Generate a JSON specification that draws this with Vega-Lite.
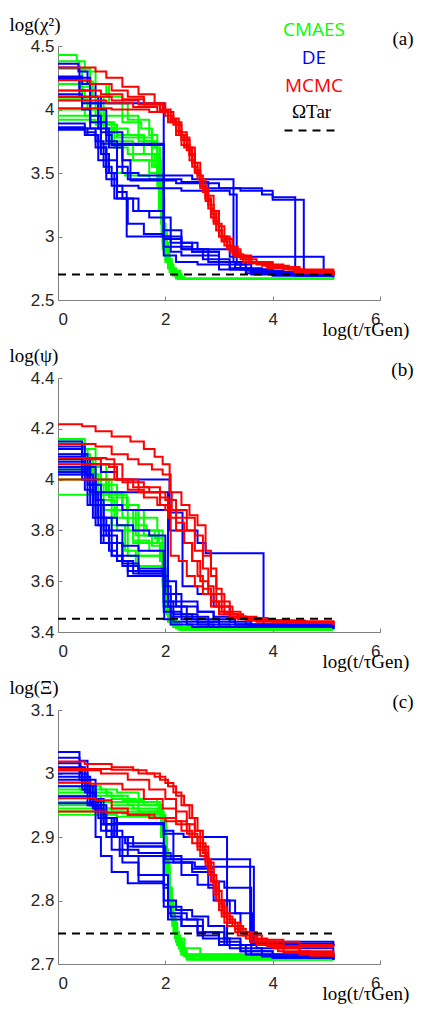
{
"$schema": "https://vega.github.io/schema/vega-lite/v6.json",
"autosize": {"type": "pad"},
"padding": {"left": 9, "top": 15, "right": 5, "bottom": 5},
"background": "white",
"spacing": 78,
"bounds": "flush",
"config": {
  "view": {"stroke": null},
  "axis": {"grid": false, "domainColor": "#7f7f7f", "domainWidth": 1, "tickColor": "#7f7f7f", "tickSize": -4, "labelFont": "Liberation Sans", "labelFontSize": 17, "labelColor": "#262626", "titleFont": "Liberation Serif", "titleFontSize": 19, "titleFontWeight": "normal", "titleColor": "#000000"}
},
"resolve": {"scale": {"x": "independent", "y": "independent", "color": "independent", "strokeDash": "independent"}, "legend": {"color": "independent", "strokeDash": "independent"}},
"datasets": {
"a": [
{"m":"C","r":"C1","x":0,"y":4.43},{"m":"C","r":"C1","x":0.35,"y":4.38},{"m":"C","r":"C1","x":0.5,"y":4.3},{"m":"C","r":"C1","x":0.7,"y":4.2},{"m":"C","r":"C1","x":0.95,"y":4.05},{"m":"C","r":"C1","x":1.3,"y":3.92},{"m":"C","r":"C1","x":1.7,"y":3.8},{"m":"C","r":"C1","x":1.85,"y":3.6},{"m":"C","r":"C1","x":1.92,"y":3.3},{"m":"C","r":"C1","x":1.97,"y":3.0},{"m":"C","r":"C1","x":2.02,"y":2.8},{"m":"C","r":"C1","x":2.1,"y":2.72},{"m":"C","r":"C1","x":2.25,"y":2.665},{"m":"C","r":"C1","x":5.13,"y":2.665},
{"m":"C","r":"C2","x":0,"y":4.38},{"m":"C","r":"C2","x":0.4,"y":4.32},{"m":"C","r":"C2","x":0.6,"y":4.2},{"m":"C","r":"C2","x":0.9,"y":4.1},{"m":"C","r":"C2","x":1.2,"y":3.95},{"m":"C","r":"C2","x":1.5,"y":3.75},{"m":"C","r":"C2","x":1.8,"y":3.7},{"m":"C","r":"C2","x":1.9,"y":3.4},{"m":"C","r":"C2","x":1.95,"y":3.1},{"m":"C","r":"C2","x":2.0,"y":2.85},{"m":"C","r":"C2","x":2.08,"y":2.75},{"m":"C","r":"C2","x":2.2,"y":2.68},{"m":"C","r":"C2","x":2.35,"y":2.665},{"m":"C","r":"C2","x":5.13,"y":2.665},
{"m":"C","r":"C3","x":0,"y":4.32},{"m":"C","r":"C3","x":0.45,"y":4.22},{"m":"C","r":"C3","x":0.65,"y":4.1},{"m":"C","r":"C3","x":0.85,"y":3.9},{"m":"C","r":"C3","x":1.05,"y":3.7},{"m":"C","r":"C3","x":1.3,"y":3.65},{"m":"C","r":"C3","x":1.75,"y":3.55},{"m":"C","r":"C3","x":1.88,"y":3.2},{"m":"C","r":"C3","x":1.95,"y":2.9},{"m":"C","r":"C3","x":2.05,"y":2.76},{"m":"C","r":"C3","x":2.15,"y":2.7},{"m":"C","r":"C3","x":2.3,"y":2.665},{"m":"C","r":"C3","x":5.13,"y":2.665},
{"m":"C","r":"C4","x":0,"y":4.25},{"m":"C","r":"C4","x":0.4,"y":4.18},{"m":"C","r":"C4","x":0.6,"y":4.0},{"m":"C","r":"C4","x":0.85,"y":3.85},{"m":"C","r":"C4","x":1.1,"y":3.78},{"m":"C","r":"C4","x":1.6,"y":3.75},{"m":"C","r":"C4","x":1.85,"y":3.5},{"m":"C","r":"C4","x":1.93,"y":3.0},{"m":"C","r":"C4","x":2.0,"y":2.8},{"m":"C","r":"C4","x":2.1,"y":2.72},{"m":"C","r":"C4","x":2.25,"y":2.665},{"m":"C","r":"C4","x":5.13,"y":2.665},
{"m":"C","r":"C5","x":0,"y":4.2},{"m":"C","r":"C5","x":0.45,"y":4.1},{"m":"C","r":"C5","x":0.7,"y":3.95},{"m":"C","r":"C5","x":0.9,"y":3.5},{"m":"C","r":"C5","x":1.25,"y":3.48},{"m":"C","r":"C5","x":1.7,"y":3.45},{"m":"C","r":"C5","x":1.9,"y":3.2},{"m":"C","r":"C5","x":1.97,"y":2.9},{"m":"C","r":"C5","x":2.05,"y":2.75},{"m":"C","r":"C5","x":2.15,"y":2.69},{"m":"C","r":"C5","x":2.3,"y":2.665},{"m":"C","r":"C5","x":5.13,"y":2.665},
{"m":"C","r":"C6","x":0,"y":4.15},{"m":"C","r":"C6","x":0.5,"y":4.05},{"m":"C","r":"C6","x":0.75,"y":3.85},{"m":"C","r":"C6","x":1.0,"y":3.72},{"m":"C","r":"C6","x":1.2,"y":3.6},{"m":"C","r":"C6","x":1.8,"y":3.55},{"m":"C","r":"C6","x":1.92,"y":3.1},{"m":"C","r":"C6","x":2.0,"y":2.82},{"m":"C","r":"C6","x":2.08,"y":2.72},{"m":"C","r":"C6","x":2.2,"y":2.67},{"m":"C","r":"C6","x":5.13,"y":2.665},
{"m":"C","r":"C7","x":0,"y":4.08},{"m":"C","r":"C7","x":0.55,"y":4.0},{"m":"C","r":"C7","x":0.8,"y":3.95},{"m":"C","r":"C7","x":1.2,"y":3.9},{"m":"C","r":"C7","x":1.55,"y":3.85},{"m":"C","r":"C7","x":1.75,"y":3.7},{"m":"C","r":"C7","x":1.85,"y":3.4},{"m":"C","r":"C7","x":1.95,"y":2.95},{"m":"C","r":"C7","x":2.05,"y":2.78},{"m":"C","r":"C7","x":2.15,"y":2.7},{"m":"C","r":"C7","x":2.3,"y":2.665},{"m":"C","r":"C7","x":5.13,"y":2.665},
{"m":"C","r":"C8","x":0,"y":4.0},{"m":"C","r":"C8","x":0.5,"y":3.95},{"m":"C","r":"C8","x":0.9,"y":3.85},{"m":"C","r":"C8","x":1.3,"y":3.8},{"m":"C","r":"C8","x":1.6,"y":3.65},{"m":"C","r":"C8","x":1.8,"y":3.55},{"m":"C","r":"C8","x":1.9,"y":3.3},{"m":"C","r":"C8","x":1.98,"y":2.9},{"m":"C","r":"C8","x":2.08,"y":2.74},{"m":"C","r":"C8","x":2.2,"y":2.68},{"m":"C","r":"C8","x":2.35,"y":2.665},{"m":"C","r":"C8","x":5.13,"y":2.665},
{"m":"C","r":"C9","x":0,"y":3.95},{"m":"C","r":"C9","x":0.6,"y":3.9},{"m":"C","r":"C9","x":1.0,"y":3.75},{"m":"C","r":"C9","x":1.4,"y":3.6},{"m":"C","r":"C9","x":1.7,"y":3.5},{"m":"C","r":"C9","x":1.85,"y":3.45},{"m":"C","r":"C9","x":1.95,"y":3.0},{"m":"C","r":"C9","x":2.02,"y":2.8},{"m":"C","r":"C9","x":2.12,"y":2.71},{"m":"C","r":"C9","x":2.25,"y":2.665},{"m":"C","r":"C9","x":5.13,"y":2.665},
{"m":"C","r":"C10","x":0,"y":3.92},{"m":"C","r":"C10","x":0.7,"y":3.88},{"m":"C","r":"C10","x":1.1,"y":3.8},{"m":"C","r":"C10","x":1.5,"y":3.78},{"m":"C","r":"C10","x":1.75,"y":3.65},{"m":"C","r":"C10","x":1.88,"y":3.35},{"m":"C","r":"C10","x":1.96,"y":3.05},{"m":"C","r":"C10","x":2.03,"y":2.82},{"m":"C","r":"C10","x":2.12,"y":2.73},{"m":"C","r":"C10","x":2.28,"y":2.67},{"m":"C","r":"C10","x":5.13,"y":2.665},
{"m":"D","r":"D1","x":0,"y":4.36},{"m":"D","r":"D1","x":0.38,"y":4.3},{"m":"D","r":"D1","x":0.55,"y":4.2},{"m":"D","r":"D1","x":0.7,"y":4.1},{"m":"D","r":"D1","x":0.8,"y":4.0},{"m":"D","r":"D1","x":0.9,"y":3.8},{"m":"D","r":"D1","x":1.0,"y":3.72},{"m":"D","r":"D1","x":1.2,"y":3.6},{"m":"D","r":"D1","x":1.35,"y":3.44},{"m":"D","r":"D1","x":2.2,"y":3.42},{"m":"D","r":"D1","x":3.0,"y":3.38},{"m":"D","r":"D1","x":3.8,"y":3.33},{"m":"D","r":"D1","x":4.0,"y":3.31},{"m":"D","r":"D1","x":4.42,"y":2.69},{"m":"D","r":"D1","x":5.13,"y":2.69},
{"m":"D","r":"D2","x":0,"y":4.33},{"m":"D","r":"D2","x":0.4,"y":4.25},{"m":"D","r":"D2","x":0.6,"y":4.1},{"m":"D","r":"D2","x":0.75,"y":3.9},{"m":"D","r":"D2","x":0.9,"y":3.75},{"m":"D","r":"D2","x":1.1,"y":3.55},{"m":"D","r":"D2","x":1.3,"y":3.45},{"m":"D","r":"D2","x":2.3,"y":3.43},{"m":"D","r":"D2","x":2.8,"y":3.38},{"m":"D","r":"D2","x":3.4,"y":3.36},{"m":"D","r":"D2","x":4.0,"y":3.29},{"m":"D","r":"D2","x":4.58,"y":2.71},{"m":"D","r":"D2","x":5.13,"y":2.71},
{"m":"D","r":"D3","x":0,"y":4.26},{"m":"D","r":"D3","x":0.45,"y":4.2},{"m":"D","r":"D3","x":0.6,"y":4.05},{"m":"D","r":"D3","x":0.75,"y":3.85},{"m":"D","r":"D3","x":0.95,"y":3.7},{"m":"D","r":"D3","x":1.2,"y":3.5},{"m":"D","r":"D3","x":1.5,"y":3.48},{"m":"D","r":"D3","x":2.5,"y":3.45},{"m":"D","r":"D3","x":3.27,"y":2.8},{"m":"D","r":"D3","x":3.5,"y":2.74},{"m":"D","r":"D3","x":4.0,"y":2.71},{"m":"D","r":"D3","x":5.13,"y":2.71},
{"m":"D","r":"D4","x":0,"y":4.24},{"m":"D","r":"D4","x":0.4,"y":4.15},{"m":"D","r":"D4","x":0.6,"y":4.05},{"m":"D","r":"D4","x":1.97,"y":3.15},{"m":"D","r":"D4","x":2.1,"y":3.0},{"m":"D","r":"D4","x":2.3,"y":2.9},{"m":"D","r":"D4","x":2.7,"y":2.85},{"m":"D","r":"D4","x":3.0,"y":2.78},{"m":"D","r":"D4","x":3.5,"y":2.73},{"m":"D","r":"D4","x":4.2,"y":2.7},{"m":"D","r":"D4","x":5.13,"y":2.7},
{"m":"D","r":"D5","x":0,"y":4.12},{"m":"D","r":"D5","x":0.45,"y":4.05},{"m":"D","r":"D5","x":0.6,"y":3.9},{"m":"D","r":"D5","x":0.8,"y":3.73},{"m":"D","r":"D5","x":1.97,"y":3.0},{"m":"D","r":"D5","x":2.1,"y":2.92},{"m":"D","r":"D5","x":2.5,"y":2.88},{"m":"D","r":"D5","x":3.0,"y":2.8},{"m":"D","r":"D5","x":3.3,"y":2.75},{"m":"D","r":"D5","x":3.8,"y":2.71},{"m":"D","r":"D5","x":5.13,"y":2.69},
{"m":"D","r":"D6","x":0,"y":4.1},{"m":"D","r":"D6","x":0.45,"y":4.0},{"m":"D","r":"D6","x":0.6,"y":3.85},{"m":"D","r":"D6","x":0.8,"y":3.65},{"m":"D","r":"D6","x":0.95,"y":3.5},{"m":"D","r":"D6","x":1.1,"y":3.4},{"m":"D","r":"D6","x":1.5,"y":3.38},{"m":"D","r":"D6","x":2.3,"y":3.36},{"m":"D","r":"D6","x":3.2,"y":3.33},{"m":"D","r":"D6","x":3.33,"y":2.78},{"m":"D","r":"D6","x":3.6,"y":2.72},{"m":"D","r":"D6","x":5.13,"y":2.7},
{"m":"D","r":"D7","x":0,"y":3.89},{"m":"D","r":"D7","x":0.5,"y":3.85},{"m":"D","r":"D7","x":0.7,"y":3.75},{"m":"D","r":"D7","x":0.85,"y":3.55},{"m":"D","r":"D7","x":1.0,"y":3.4},{"m":"D","r":"D7","x":1.2,"y":3.3},{"m":"D","r":"D7","x":1.5,"y":3.2},{"m":"D","r":"D7","x":1.97,"y":3.0},{"m":"D","r":"D7","x":2.1,"y":2.95},{"m":"D","r":"D7","x":2.6,"y":2.9},{"m":"D","r":"D7","x":3.2,"y":2.84},{"m":"D","r":"D7","x":4.95,"y":2.71},{"m":"D","r":"D7","x":5.13,"y":2.71},
{"m":"D","r":"D8","x":0,"y":3.86},{"m":"D","r":"D8","x":0.5,"y":3.82},{"m":"D","r":"D8","x":0.7,"y":3.7},{"m":"D","r":"D8","x":0.9,"y":3.5},{"m":"D","r":"D8","x":1.05,"y":3.3},{"m":"D","r":"D8","x":1.3,"y":3.1},{"m":"D","r":"D8","x":1.6,"y":3.02},{"m":"D","r":"D8","x":1.97,"y":2.85},{"m":"D","r":"D8","x":2.2,"y":2.8},{"m":"D","r":"D8","x":2.6,"y":2.78},{"m":"D","r":"D8","x":3.0,"y":2.74},{"m":"D","r":"D8","x":3.5,"y":2.71},{"m":"D","r":"D8","x":4.0,"y":2.69},{"m":"D","r":"D8","x":5.13,"y":2.68},
{"m":"D","r":"D9","x":0,"y":3.85},{"m":"D","r":"D9","x":0.55,"y":3.8},{"m":"D","r":"D9","x":0.75,"y":3.7},{"m":"D","r":"D9","x":0.9,"y":3.6},{"m":"D","r":"D9","x":1.1,"y":3.35},{"m":"D","r":"D9","x":1.28,"y":3.0},{"m":"D","r":"D9","x":1.97,"y":2.92},{"m":"D","r":"D9","x":2.1,"y":2.88},{"m":"D","r":"D9","x":2.3,"y":2.85},{"m":"D","r":"D9","x":2.7,"y":2.82},{"m":"D","r":"D9","x":3.2,"y":2.75},{"m":"D","r":"D9","x":3.6,"y":2.71},{"m":"D","r":"D9","x":5.13,"y":2.69},
{"m":"D","r":"D10","x":0,"y":3.84},{"m":"D","r":"D10","x":0.5,"y":3.8},{"m":"D","r":"D10","x":0.75,"y":3.6},{"m":"D","r":"D10","x":0.9,"y":3.45},{"m":"D","r":"D10","x":1.1,"y":3.3},{"m":"D","r":"D10","x":1.4,"y":3.2},{"m":"D","r":"D10","x":1.7,"y":3.15},{"m":"D","r":"D10","x":1.97,"y":3.05},{"m":"D","r":"D10","x":2.3,"y":2.95},{"m":"D","r":"D10","x":2.5,"y":2.88},{"m":"D","r":"D10","x":3.0,"y":2.8},{"m":"D","r":"D10","x":3.4,"y":2.74},{"m":"D","r":"D10","x":4.0,"y":2.7},{"m":"D","r":"D10","x":5.13,"y":2.68},
{"m":"D","r":"D11","x":0,"y":4.25},{"m":"D","r":"D11","x":0.4,"y":4.1},{"m":"D","r":"D11","x":0.6,"y":3.95},{"m":"D","r":"D11","x":0.8,"y":3.82},{"m":"D","r":"D11","x":1.2,"y":3.72},{"m":"D","r":"D11","x":1.97,"y":2.98},{"m":"D","r":"D11","x":2.3,"y":2.9},{"m":"D","r":"D11","x":2.8,"y":2.8},{"m":"D","r":"D11","x":3.2,"y":2.74},{"m":"D","r":"D11","x":3.6,"y":2.7},{"m":"D","r":"D11","x":5.13,"y":2.69},
{"m":"M","r":"M1","x":0,"y":4.33},{"m":"M","r":"M1","x":0.7,"y":4.3},{"m":"M","r":"M1","x":0.9,"y":4.25},{"m":"M","r":"M1","x":1.2,"y":4.18},{"m":"M","r":"M1","x":1.5,"y":4.12},{"m":"M","r":"M1","x":1.8,"y":4.05},{"m":"M","r":"M1","x":2.0,"y":3.98},{"m":"M","r":"M1","x":2.15,"y":3.9},{"m":"M","r":"M1","x":2.3,"y":3.78},{"m":"M","r":"M1","x":2.45,"y":3.65},{"m":"M","r":"M1","x":2.55,"y":3.52},{"m":"M","r":"M1","x":2.65,"y":3.4},{"m":"M","r":"M1","x":2.75,"y":3.3},{"m":"M","r":"M1","x":2.85,"y":3.2},{"m":"M","r":"M1","x":2.95,"y":3.1},{"m":"M","r":"M1","x":3.05,"y":3.0},{"m":"M","r":"M1","x":3.2,"y":2.92},{"m":"M","r":"M1","x":3.35,"y":2.85},{"m":"M","r":"M1","x":3.6,"y":2.8},{"m":"M","r":"M1","x":4.0,"y":2.76},{"m":"M","r":"M1","x":4.5,"y":2.72},{"m":"M","r":"M1","x":5.13,"y":2.7},
{"m":"M","r":"M2","x":0,"y":4.23},{"m":"M","r":"M2","x":0.6,"y":4.2},{"m":"M","r":"M2","x":1.0,"y":4.15},{"m":"M","r":"M2","x":1.3,"y":4.1},{"m":"M","r":"M2","x":1.6,"y":4.05},{"m":"M","r":"M2","x":1.9,"y":4.0},{"m":"M","r":"M2","x":2.1,"y":3.93},{"m":"M","r":"M2","x":2.25,"y":3.8},{"m":"M","r":"M2","x":2.4,"y":3.68},{"m":"M","r":"M2","x":2.5,"y":3.55},{"m":"M","r":"M2","x":2.6,"y":3.45},{"m":"M","r":"M2","x":2.7,"y":3.35},{"m":"M","r":"M2","x":2.8,"y":3.22},{"m":"M","r":"M2","x":2.9,"y":3.1},{"m":"M","r":"M2","x":3.0,"y":3.0},{"m":"M","r":"M2","x":3.15,"y":2.92},{"m":"M","r":"M2","x":3.3,"y":2.85},{"m":"M","r":"M2","x":3.5,"y":2.8},{"m":"M","r":"M2","x":3.9,"y":2.76},{"m":"M","r":"M2","x":4.4,"y":2.73},{"m":"M","r":"M2","x":5.13,"y":2.7},
{"m":"M","r":"M3","x":0,"y":4.15},{"m":"M","r":"M3","x":0.8,"y":4.12},{"m":"M","r":"M3","x":1.2,"y":4.08},{"m":"M","r":"M3","x":1.6,"y":4.04},{"m":"M","r":"M3","x":1.95,"y":3.98},{"m":"M","r":"M3","x":2.1,"y":3.9},{"m":"M","r":"M3","x":2.2,"y":3.8},{"m":"M","r":"M3","x":2.35,"y":3.7},{"m":"M","r":"M3","x":2.5,"y":3.58},{"m":"M","r":"M3","x":2.6,"y":3.48},{"m":"M","r":"M3","x":2.7,"y":3.38},{"m":"M","r":"M3","x":2.8,"y":3.25},{"m":"M","r":"M3","x":2.9,"y":3.12},{"m":"M","r":"M3","x":3.0,"y":3.0},{"m":"M","r":"M3","x":3.1,"y":2.93},{"m":"M","r":"M3","x":3.25,"y":2.86},{"m":"M","r":"M3","x":3.45,"y":2.8},{"m":"M","r":"M3","x":3.8,"y":2.77},{"m":"M","r":"M3","x":4.3,"y":2.74},{"m":"M","r":"M3","x":4.6,"y":2.71},{"m":"M","r":"M3","x":5.13,"y":2.69},
{"m":"M","r":"M4","x":0,"y":4.1},{"m":"M","r":"M4","x":1.0,"y":4.07},{"m":"M","r":"M4","x":1.5,"y":4.04},{"m":"M","r":"M4","x":1.9,"y":3.99},{"m":"M","r":"M4","x":2.05,"y":3.92},{"m":"M","r":"M4","x":2.2,"y":3.83},{"m":"M","r":"M4","x":2.3,"y":3.72},{"m":"M","r":"M4","x":2.45,"y":3.6},{"m":"M","r":"M4","x":2.55,"y":3.5},{"m":"M","r":"M4","x":2.65,"y":3.38},{"m":"M","r":"M4","x":2.75,"y":3.28},{"m":"M","r":"M4","x":2.85,"y":3.15},{"m":"M","r":"M4","x":2.95,"y":3.05},{"m":"M","r":"M4","x":3.05,"y":2.96},{"m":"M","r":"M4","x":3.2,"y":2.88},{"m":"M","r":"M4","x":3.4,"y":2.82},{"m":"M","r":"M4","x":3.7,"y":2.78},{"m":"M","r":"M4","x":4.2,"y":2.74},{"m":"M","r":"M4","x":5.13,"y":2.69},
{"m":"M","r":"M5","x":0,"y":4.07},{"m":"M","r":"M5","x":0.9,"y":4.05},{"m":"M","r":"M5","x":1.4,"y":4.02},{"m":"M","r":"M5","x":1.85,"y":3.98},{"m":"M","r":"M5","x":2.05,"y":3.9},{"m":"M","r":"M5","x":2.25,"y":3.82},{"m":"M","r":"M5","x":2.4,"y":3.7},{"m":"M","r":"M5","x":2.55,"y":3.58},{"m":"M","r":"M5","x":2.65,"y":3.45},{"m":"M","r":"M5","x":2.75,"y":3.32},{"m":"M","r":"M5","x":2.9,"y":3.2},{"m":"M","r":"M5","x":3.0,"y":3.08},{"m":"M","r":"M5","x":3.1,"y":2.98},{"m":"M","r":"M5","x":3.25,"y":2.9},{"m":"M","r":"M5","x":3.4,"y":2.84},{"m":"M","r":"M5","x":3.6,"y":2.79},{"m":"M","r":"M5","x":4.0,"y":2.75},{"m":"M","r":"M5","x":4.5,"y":2.72},{"m":"M","r":"M5","x":5.13,"y":2.7},
{"m":"M","r":"M6","x":0,"y":4.01},{"m":"M","r":"M6","x":1.0,"y":4.0},{"m":"M","r":"M6","x":1.7,"y":3.98},{"m":"M","r":"M6","x":2.0,"y":3.95},{"m":"M","r":"M6","x":2.15,"y":3.88},{"m":"M","r":"M6","x":2.3,"y":3.76},{"m":"M","r":"M6","x":2.45,"y":3.64},{"m":"M","r":"M6","x":2.55,"y":3.52},{"m":"M","r":"M6","x":2.65,"y":3.4},{"m":"M","r":"M6","x":2.75,"y":3.3},{"m":"M","r":"M6","x":2.85,"y":3.18},{"m":"M","r":"M6","x":2.95,"y":3.05},{"m":"M","r":"M6","x":3.05,"y":2.97},{"m":"M","r":"M6","x":3.15,"y":2.9},{"m":"M","r":"M6","x":3.3,"y":2.84},{"m":"M","r":"M6","x":3.55,"y":2.79},{"m":"M","r":"M6","x":3.9,"y":2.75},{"m":"M","r":"M6","x":4.4,"y":2.72},{"m":"M","r":"M6","x":5.13,"y":2.69}
],
"b": [
{"m":"C","r":"C1","x":0,"y":4.16},{"m":"C","r":"C1","x":0.5,"y":4.12},{"m":"C","r":"C1","x":0.7,"y":4.0},{"m":"C","r":"C1","x":0.9,"y":3.95},{"m":"C","r":"C1","x":1.2,"y":3.9},{"m":"C","r":"C1","x":1.5,"y":3.85},{"m":"C","r":"C1","x":1.85,"y":3.8},{"m":"C","r":"C1","x":1.95,"y":3.6},{"m":"C","r":"C1","x":2.02,"y":3.48},{"m":"C","r":"C1","x":2.1,"y":3.43},{"m":"C","r":"C1","x":2.25,"y":3.41},{"m":"C","r":"C1","x":5.13,"y":3.41},
{"m":"C","r":"C2","x":0,"y":4.15},{"m":"C","r":"C2","x":0.45,"y":4.08},{"m":"C","r":"C2","x":0.65,"y":3.98},{"m":"C","r":"C2","x":0.85,"y":3.88},{"m":"C","r":"C2","x":1.1,"y":3.8},{"m":"C","r":"C2","x":1.4,"y":3.75},{"m":"C","r":"C2","x":1.9,"y":3.72},{"m":"C","r":"C2","x":1.98,"y":3.55},{"m":"C","r":"C2","x":2.05,"y":3.45},{"m":"C","r":"C2","x":2.15,"y":3.42},{"m":"C","r":"C2","x":2.3,"y":3.41},{"m":"C","r":"C2","x":5.13,"y":3.41},
{"m":"C","r":"C3","x":0,"y":4.12},{"m":"C","r":"C3","x":0.55,"y":4.05},{"m":"C","r":"C3","x":0.8,"y":3.92},{"m":"C","r":"C3","x":1.05,"y":3.85},{"m":"C","r":"C3","x":1.3,"y":3.7},{"m":"C","r":"C3","x":1.9,"y":3.68},{"m":"C","r":"C3","x":1.97,"y":3.5},{"m":"C","r":"C3","x":2.05,"y":3.44},{"m":"C","r":"C3","x":2.2,"y":3.415},{"m":"C","r":"C3","x":5.13,"y":3.41},
{"m":"C","r":"C4","x":0,"y":4.1},{"m":"C","r":"C4","x":0.6,"y":4.06},{"m":"C","r":"C4","x":0.9,"y":3.95},{"m":"C","r":"C4","x":1.2,"y":3.9},{"m":"C","r":"C4","x":1.5,"y":3.8},{"m":"C","r":"C4","x":1.8,"y":3.77},{"m":"C","r":"C4","x":1.95,"y":3.62},{"m":"C","r":"C4","x":2.02,"y":3.5},{"m":"C","r":"C4","x":2.1,"y":3.44},{"m":"C","r":"C4","x":2.25,"y":3.41},{"m":"C","r":"C4","x":5.13,"y":3.41},
{"m":"C","r":"C5","x":0,"y":4.08},{"m":"C","r":"C5","x":0.5,"y":4.02},{"m":"C","r":"C5","x":0.75,"y":3.92},{"m":"C","r":"C5","x":1.0,"y":3.82},{"m":"C","r":"C5","x":1.25,"y":3.72},{"m":"C","r":"C5","x":1.45,"y":3.66},{"m":"C","r":"C5","x":1.93,"y":3.64},{"m":"C","r":"C5","x":2.0,"y":3.5},{"m":"C","r":"C5","x":2.08,"y":3.44},{"m":"C","r":"C5","x":2.2,"y":3.415},{"m":"C","r":"C5","x":5.13,"y":3.41},
{"m":"C","r":"C6","x":0,"y":4.06},{"m":"C","r":"C6","x":0.65,"y":4.0},{"m":"C","r":"C6","x":0.95,"y":3.93},{"m":"C","r":"C6","x":1.3,"y":3.88},{"m":"C","r":"C6","x":1.6,"y":3.78},{"m":"C","r":"C6","x":1.85,"y":3.75},{"m":"C","r":"C6","x":1.95,"y":3.58},{"m":"C","r":"C6","x":2.03,"y":3.47},{"m":"C","r":"C6","x":2.12,"y":3.43},{"m":"C","r":"C6","x":2.3,"y":3.41},{"m":"C","r":"C6","x":5.13,"y":3.41},
{"m":"C","r":"C7","x":0,"y":4.04},{"m":"C","r":"C7","x":0.7,"y":4.0},{"m":"C","r":"C7","x":1.0,"y":3.9},{"m":"C","r":"C7","x":1.3,"y":3.8},{"m":"C","r":"C7","x":1.5,"y":3.7},{"m":"C","r":"C7","x":1.9,"y":3.7},{"m":"C","r":"C7","x":1.98,"y":3.52},{"m":"C","r":"C7","x":2.06,"y":3.45},{"m":"C","r":"C7","x":2.2,"y":3.42},{"m":"C","r":"C7","x":5.13,"y":3.41},
{"m":"C","r":"C8","x":0,"y":4.02},{"m":"C","r":"C8","x":0.8,"y":3.98},{"m":"C","r":"C8","x":1.1,"y":3.88},{"m":"C","r":"C8","x":1.4,"y":3.76},{"m":"C","r":"C8","x":1.7,"y":3.72},{"m":"C","r":"C8","x":1.92,"y":3.68},{"m":"C","r":"C8","x":2.0,"y":3.5},{"m":"C","r":"C8","x":2.1,"y":3.44},{"m":"C","r":"C8","x":2.25,"y":3.415},{"m":"C","r":"C8","x":5.13,"y":3.41},
{"m":"C","r":"C9","x":0,"y":4.0},{"m":"C","r":"C9","x":0.9,"y":3.95},{"m":"C","r":"C9","x":1.2,"y":3.85},{"m":"C","r":"C9","x":1.45,"y":3.78},{"m":"C","r":"C9","x":1.75,"y":3.74},{"m":"C","r":"C9","x":1.9,"y":3.7},{"m":"C","r":"C9","x":1.97,"y":3.55},{"m":"C","r":"C9","x":2.05,"y":3.46},{"m":"C","r":"C9","x":2.15,"y":3.42},{"m":"C","r":"C9","x":5.13,"y":3.41},
{"m":"C","r":"C10","x":0,"y":3.94},{"m":"C","r":"C10","x":1.28,"y":3.88},{"m":"C","r":"C10","x":1.45,"y":3.82},{"m":"C","r":"C10","x":1.65,"y":3.8},{"m":"C","r":"C10","x":1.88,"y":3.75},{"m":"C","r":"C10","x":1.96,"y":3.6},{"m":"C","r":"C10","x":2.04,"y":3.47},{"m":"C","r":"C10","x":2.15,"y":3.43},{"m":"C","r":"C10","x":2.3,"y":3.41},{"m":"C","r":"C10","x":5.13,"y":3.41},
{"m":"D","r":"D1","x":0,"y":4.15},{"m":"D","r":"D1","x":0.45,"y":4.1},{"m":"D","r":"D1","x":0.55,"y":4.0},{"m":"D","r":"D1","x":0.7,"y":3.9},{"m":"D","r":"D1","x":0.85,"y":3.8},{"m":"D","r":"D1","x":1.0,"y":3.75},{"m":"D","r":"D1","x":1.2,"y":3.7},{"m":"D","r":"D1","x":1.5,"y":3.65},{"m":"D","r":"D1","x":2.0,"y":3.55},{"m":"D","r":"D1","x":2.1,"y":3.48},{"m":"D","r":"D1","x":2.3,"y":3.45},{"m":"D","r":"D1","x":2.6,"y":3.43},{"m":"D","r":"D1","x":3.2,"y":3.42},{"m":"D","r":"D1","x":5.13,"y":3.415},
{"m":"D","r":"D2","x":0,"y":4.13},{"m":"D","r":"D2","x":0.5,"y":4.08},{"m":"D","r":"D2","x":0.6,"y":3.95},{"m":"D","r":"D2","x":0.75,"y":3.85},{"m":"D","r":"D2","x":0.9,"y":3.78},{"m":"D","r":"D2","x":1.1,"y":3.68},{"m":"D","r":"D2","x":1.3,"y":3.64},{"m":"D","r":"D2","x":1.97,"y":3.6},{"m":"D","r":"D2","x":2.05,"y":3.5},{"m":"D","r":"D2","x":2.3,"y":3.47},{"m":"D","r":"D2","x":2.6,"y":3.44},{"m":"D","r":"D2","x":3.0,"y":3.42},{"m":"D","r":"D2","x":5.13,"y":3.415},
{"m":"D","r":"D3","x":0,"y":4.12},{"m":"D","r":"D3","x":0.45,"y":4.05},{"m":"D","r":"D3","x":0.6,"y":3.9},{"m":"D","r":"D3","x":0.75,"y":3.82},{"m":"D","r":"D3","x":0.95,"y":3.75},{"m":"D","r":"D3","x":1.2,"y":3.68},{"m":"D","r":"D3","x":1.4,"y":3.63},{"m":"D","r":"D3","x":1.98,"y":3.62},{"m":"D","r":"D3","x":2.05,"y":3.55},{"m":"D","r":"D3","x":2.3,"y":3.52},{"m":"D","r":"D3","x":2.6,"y":3.48},{"m":"D","r":"D3","x":2.9,"y":3.45},{"m":"D","r":"D3","x":3.3,"y":3.43},{"m":"D","r":"D3","x":3.6,"y":3.42},{"m":"D","r":"D3","x":5.13,"y":3.415},
{"m":"D","r":"D4","x":0,"y":4.1},{"m":"D","r":"D4","x":0.5,"y":4.06},{"m":"D","r":"D4","x":0.8,"y":4.03},{"m":"D","r":"D4","x":1.1,"y":4.0},{"m":"D","r":"D4","x":2.08,"y":3.8},{"m":"D","r":"D4","x":2.6,"y":3.75},{"m":"D","r":"D4","x":2.75,"y":3.71},{"m":"D","r":"D4","x":3.83,"y":3.425},{"m":"D","r":"D4","x":5.13,"y":3.42},
{"m":"D","r":"D5","x":0,"y":4.09},{"m":"D","r":"D5","x":0.5,"y":4.05},{"m":"D","r":"D5","x":0.7,"y":3.95},{"m":"D","r":"D5","x":2.05,"y":3.6},{"m":"D","r":"D5","x":2.2,"y":3.5},{"m":"D","r":"D5","x":2.4,"y":3.46},{"m":"D","r":"D5","x":2.8,"y":3.44},{"m":"D","r":"D5","x":3.3,"y":3.43},{"m":"D","r":"D5","x":5.13,"y":3.415},
{"m":"D","r":"D6","x":0,"y":4.08},{"m":"D","r":"D6","x":0.45,"y":4.0},{"m":"D","r":"D6","x":0.55,"y":3.9},{"m":"D","r":"D6","x":0.7,"y":3.82},{"m":"D","r":"D6","x":0.8,"y":3.75},{"m":"D","r":"D6","x":1.0,"y":3.7},{"m":"D","r":"D6","x":1.2,"y":3.67},{"m":"D","r":"D6","x":1.5,"y":3.64},{"m":"D","r":"D6","x":1.97,"y":3.5},{"m":"D","r":"D6","x":2.1,"y":3.46},{"m":"D","r":"D6","x":2.4,"y":3.44},{"m":"D","r":"D6","x":2.8,"y":3.42},{"m":"D","r":"D6","x":5.13,"y":3.415},
{"m":"D","r":"D7","x":0,"y":4.07},{"m":"D","r":"D7","x":0.5,"y":4.02},{"m":"D","r":"D7","x":0.65,"y":3.9},{"m":"D","r":"D7","x":0.8,"y":3.85},{"m":"D","r":"D7","x":1.0,"y":3.8},{"m":"D","r":"D7","x":1.2,"y":3.74},{"m":"D","r":"D7","x":1.5,"y":3.72},{"m":"D","r":"D7","x":1.97,"y":3.52},{"m":"D","r":"D7","x":2.15,"y":3.47},{"m":"D","r":"D7","x":2.5,"y":3.45},{"m":"D","r":"D7","x":3.0,"y":3.43},{"m":"D","r":"D7","x":5.13,"y":3.415},
{"m":"D","r":"D8","x":0,"y":4.05},{"m":"D","r":"D8","x":0.55,"y":4.0},{"m":"D","r":"D8","x":0.7,"y":3.92},{"m":"D","r":"D8","x":0.85,"y":3.85},{"m":"D","r":"D8","x":1.1,"y":3.82},{"m":"D","r":"D8","x":1.4,"y":3.8},{"m":"D","r":"D8","x":1.7,"y":3.78},{"m":"D","r":"D8","x":2.0,"y":3.58},{"m":"D","r":"D8","x":2.1,"y":3.52},{"m":"D","r":"D8","x":2.3,"y":3.5},{"m":"D","r":"D8","x":2.6,"y":3.48},{"m":"D","r":"D8","x":2.9,"y":3.46},{"m":"D","r":"D8","x":3.2,"y":3.44},{"m":"D","r":"D8","x":3.6,"y":3.425},{"m":"D","r":"D8","x":5.13,"y":3.415},
{"m":"D","r":"D9","x":0,"y":4.04},{"m":"D","r":"D9","x":0.6,"y":3.98},{"m":"D","r":"D9","x":0.8,"y":3.9},{"m":"D","r":"D9","x":1.2,"y":3.88},{"m":"D","r":"D9","x":2.05,"y":3.87},{"m":"D","r":"D9","x":2.32,"y":3.58},{"m":"D","r":"D9","x":2.6,"y":3.55},{"m":"D","r":"D9","x":2.9,"y":3.5},{"m":"D","r":"D9","x":3.2,"y":3.46},{"m":"D","r":"D9","x":3.5,"y":3.43},{"m":"D","r":"D9","x":5.13,"y":3.415},
{"m":"D","r":"D10","x":0,"y":4.03},{"m":"D","r":"D10","x":0.55,"y":3.98},{"m":"D","r":"D10","x":0.7,"y":3.85},{"m":"D","r":"D10","x":0.85,"y":3.75},{"m":"D","r":"D10","x":1.0,"y":3.7},{"m":"D","r":"D10","x":1.2,"y":3.66},{"m":"D","r":"D10","x":1.5,"y":3.63},{"m":"D","r":"D10","x":1.98,"y":3.45},{"m":"D","r":"D10","x":2.1,"y":3.43},{"m":"D","r":"D10","x":2.5,"y":3.42},{"m":"D","r":"D10","x":5.13,"y":3.415},
{"m":"D","r":"D11","x":0,"y":4.02},{"m":"D","r":"D11","x":0.5,"y":3.96},{"m":"D","r":"D11","x":0.65,"y":3.85},{"m":"D","r":"D11","x":0.8,"y":3.78},{"m":"D","r":"D11","x":0.95,"y":3.72},{"m":"D","r":"D11","x":1.1,"y":3.68},{"m":"D","r":"D11","x":1.3,"y":3.62},{"m":"D","r":"D11","x":1.97,"y":3.48},{"m":"D","r":"D11","x":2.15,"y":3.44},{"m":"D","r":"D11","x":2.4,"y":3.43},{"m":"D","r":"D11","x":2.9,"y":3.42},{"m":"D","r":"D11","x":5.13,"y":3.415},
{"m":"M","r":"M1","x":0,"y":4.218},{"m":"M","r":"M1","x":0.45,"y":4.21},{"m":"M","r":"M1","x":0.7,"y":4.19},{"m":"M","r":"M1","x":1.0,"y":4.17},{"m":"M","r":"M1","x":1.35,"y":4.15},{"m":"M","r":"M1","x":1.6,"y":4.12},{"m":"M","r":"M1","x":1.8,"y":4.09},{"m":"M","r":"M1","x":1.95,"y":4.06},{"m":"M","r":"M1","x":2.08,"y":3.95},{"m":"M","r":"M1","x":2.12,"y":3.88},{"m":"M","r":"M1","x":2.2,"y":3.83},{"m":"M","r":"M1","x":2.35,"y":3.75},{"m":"M","r":"M1","x":2.5,"y":3.68},{"m":"M","r":"M1","x":2.65,"y":3.6},{"m":"M","r":"M1","x":2.8,"y":3.55},{"m":"M","r":"M1","x":2.95,"y":3.5},{"m":"M","r":"M1","x":3.1,"y":3.47},{"m":"M","r":"M1","x":3.35,"y":3.45},{"m":"M","r":"M1","x":3.7,"y":3.44},{"m":"M","r":"M1","x":4.3,"y":3.435},{"m":"M","r":"M1","x":5.13,"y":3.43},
{"m":"M","r":"M2","x":0,"y":4.14},{"m":"M","r":"M2","x":0.7,"y":4.13},{"m":"M","r":"M2","x":1.0,"y":4.1},{"m":"M","r":"M2","x":1.3,"y":4.08},{"m":"M","r":"M2","x":1.5,"y":4.06},{"m":"M","r":"M2","x":1.75,"y":4.04},{"m":"M","r":"M2","x":1.95,"y":4.02},{"m":"M","r":"M2","x":2.1,"y":3.95},{"m":"M","r":"M2","x":2.3,"y":3.9},{"m":"M","r":"M2","x":2.45,"y":3.86},{"m":"M","r":"M2","x":2.6,"y":3.82},{"m":"M","r":"M2","x":2.75,"y":3.72},{"m":"M","r":"M2","x":2.85,"y":3.65},{"m":"M","r":"M2","x":2.95,"y":3.57},{"m":"M","r":"M2","x":3.05,"y":3.52},{"m":"M","r":"M2","x":3.2,"y":3.48},{"m":"M","r":"M2","x":3.4,"y":3.46},{"m":"M","r":"M2","x":3.7,"y":3.445},{"m":"M","r":"M2","x":4.3,"y":3.44},{"m":"M","r":"M2","x":5.13,"y":3.43},
{"m":"M","r":"M3","x":0,"y":4.085},{"m":"M","r":"M3","x":0.9,"y":4.08},{"m":"M","r":"M3","x":1.05,"y":4.0},{"m":"M","r":"M3","x":1.3,"y":3.96},{"m":"M","r":"M3","x":1.6,"y":3.93},{"m":"M","r":"M3","x":1.85,"y":3.9},{"m":"M","r":"M3","x":2.0,"y":3.88},{"m":"M","r":"M3","x":2.2,"y":3.85},{"m":"M","r":"M3","x":2.4,"y":3.8},{"m":"M","r":"M3","x":2.55,"y":3.72},{"m":"M","r":"M3","x":2.7,"y":3.65},{"m":"M","r":"M3","x":2.8,"y":3.58},{"m":"M","r":"M3","x":2.9,"y":3.52},{"m":"M","r":"M3","x":3.05,"y":3.48},{"m":"M","r":"M3","x":3.2,"y":3.46},{"m":"M","r":"M3","x":3.5,"y":3.445},{"m":"M","r":"M3","x":4.2,"y":3.44},{"m":"M","r":"M3","x":5.13,"y":3.43},
{"m":"M","r":"M4","x":0,"y":4.06},{"m":"M","r":"M4","x":0.95,"y":4.05},{"m":"M","r":"M4","x":1.1,"y":4.0},{"m":"M","r":"M4","x":1.4,"y":3.97},{"m":"M","r":"M4","x":1.7,"y":3.95},{"m":"M","r":"M4","x":2.0,"y":3.92},{"m":"M","r":"M4","x":2.2,"y":3.88},{"m":"M","r":"M4","x":2.4,"y":3.85},{"m":"M","r":"M4","x":2.55,"y":3.78},{"m":"M","r":"M4","x":2.7,"y":3.7},{"m":"M","r":"M4","x":2.85,"y":3.62},{"m":"M","r":"M4","x":2.95,"y":3.55},{"m":"M","r":"M4","x":3.1,"y":3.5},{"m":"M","r":"M4","x":3.25,"y":3.47},{"m":"M","r":"M4","x":3.45,"y":3.455},{"m":"M","r":"M4","x":3.9,"y":3.445},{"m":"M","r":"M4","x":4.6,"y":3.44},{"m":"M","r":"M4","x":5.13,"y":3.43},
{"m":"M","r":"M5","x":0,"y":4.0},{"m":"M","r":"M5","x":1.2,"y":3.99},{"m":"M","r":"M5","x":1.6,"y":3.97},{"m":"M","r":"M5","x":1.9,"y":3.93},{"m":"M","r":"M5","x":2.05,"y":3.85},{"m":"M","r":"M5","x":2.2,"y":3.8},{"m":"M","r":"M5","x":2.35,"y":3.75},{"m":"M","r":"M5","x":2.5,"y":3.68},{"m":"M","r":"M5","x":2.6,"y":3.62},{"m":"M","r":"M5","x":2.7,"y":3.57},{"m":"M","r":"M5","x":2.85,"y":3.52},{"m":"M","r":"M5","x":3.0,"y":3.48},{"m":"M","r":"M5","x":3.2,"y":3.46},{"m":"M","r":"M5","x":3.5,"y":3.45},{"m":"M","r":"M5","x":4.0,"y":3.44},{"m":"M","r":"M5","x":5.13,"y":3.43},
{"m":"M","r":"M6","x":0,"y":4.085},{"m":"M","r":"M6","x":0.5,"y":4.08},{"m":"M","r":"M6","x":0.8,"y":4.06},{"m":"M","r":"M6","x":1.2,"y":4.0},{"m":"M","r":"M6","x":1.5,"y":3.95},{"m":"M","r":"M6","x":1.9,"y":3.9},{"m":"M","r":"M6","x":2.1,"y":3.7},{"m":"M","r":"M6","x":2.25,"y":3.68},{"m":"M","r":"M6","x":2.4,"y":3.62},{"m":"M","r":"M6","x":2.55,"y":3.58},{"m":"M","r":"M6","x":2.7,"y":3.55},{"m":"M","r":"M6","x":2.85,"y":3.5},{"m":"M","r":"M6","x":3.0,"y":3.47},{"m":"M","r":"M6","x":3.2,"y":3.455},{"m":"M","r":"M6","x":3.6,"y":3.445},{"m":"M","r":"M6","x":4.4,"y":3.44},{"m":"M","r":"M6","x":5.13,"y":3.43}
],
"c": [
{"m":"C","r":"C1","x":0,"y":2.985},{"m":"C","r":"C1","x":0.5,"y":2.98},{"m":"C","r":"C1","x":0.8,"y":2.975},{"m":"C","r":"C1","x":1.1,"y":2.97},{"m":"C","r":"C1","x":1.5,"y":2.96},{"m":"C","r":"C1","x":1.85,"y":2.95},{"m":"C","r":"C1","x":1.95,"y":2.92},{"m":"C","r":"C1","x":2.0,"y":2.88},{"m":"C","r":"C1","x":2.05,"y":2.82},{"m":"C","r":"C1","x":2.1,"y":2.78},{"m":"C","r":"C1","x":2.15,"y":2.75},{"m":"C","r":"C1","x":2.22,"y":2.73},{"m":"C","r":"C1","x":2.3,"y":2.715},{"m":"C","r":"C1","x":2.4,"y":2.707},{"m":"C","r":"C1","x":5.13,"y":2.707},
{"m":"C","r":"C2","x":0,"y":2.98},{"m":"C","r":"C2","x":0.4,"y":2.975},{"m":"C","r":"C2","x":0.9,"y":2.965},{"m":"C","r":"C2","x":1.3,"y":2.955},{"m":"C","r":"C2","x":1.9,"y":2.94},{"m":"C","r":"C2","x":1.97,"y":2.9},{"m":"C","r":"C2","x":2.03,"y":2.84},{"m":"C","r":"C2","x":2.08,"y":2.8},{"m":"C","r":"C2","x":2.14,"y":2.76},{"m":"C","r":"C2","x":2.2,"y":2.735},{"m":"C","r":"C2","x":2.3,"y":2.72},{"m":"C","r":"C2","x":2.4,"y":2.708},{"m":"C","r":"C2","x":5.13,"y":2.707},
{"m":"C","r":"C3","x":0,"y":2.975},{"m":"C","r":"C3","x":0.6,"y":2.97},{"m":"C","r":"C3","x":1.0,"y":2.96},{"m":"C","r":"C3","x":1.45,"y":2.955},{"m":"C","r":"C3","x":1.5,"y":2.94},{"m":"C","r":"C3","x":1.92,"y":2.935},{"m":"C","r":"C3","x":1.98,"y":2.88},{"m":"C","r":"C3","x":2.05,"y":2.82},{"m":"C","r":"C3","x":2.12,"y":2.77},{"m":"C","r":"C3","x":2.18,"y":2.74},{"m":"C","r":"C3","x":2.28,"y":2.72},{"m":"C","r":"C3","x":2.4,"y":2.707},{"m":"C","r":"C3","x":5.13,"y":2.707},
{"m":"C","r":"C4","x":0,"y":2.97},{"m":"C","r":"C4","x":0.7,"y":2.965},{"m":"C","r":"C4","x":1.2,"y":2.958},{"m":"C","r":"C4","x":1.6,"y":2.95},{"m":"C","r":"C4","x":1.88,"y":2.945},{"m":"C","r":"C4","x":1.95,"y":2.9},{"m":"C","r":"C4","x":2.02,"y":2.85},{"m":"C","r":"C4","x":2.08,"y":2.8},{"m":"C","r":"C4","x":2.15,"y":2.76},{"m":"C","r":"C4","x":2.22,"y":2.74},{"m":"C","r":"C4","x":2.35,"y":2.715},{"m":"C","r":"C4","x":5.13,"y":2.707},
{"m":"C","r":"C5","x":0,"y":2.965},{"m":"C","r":"C5","x":0.8,"y":2.955},{"m":"C","r":"C5","x":1.3,"y":2.95},{"m":"C","r":"C5","x":1.9,"y":2.935},{"m":"C","r":"C5","x":2.0,"y":2.87},{"m":"C","r":"C5","x":2.06,"y":2.82},{"m":"C","r":"C5","x":2.12,"y":2.78},{"m":"C","r":"C5","x":2.18,"y":2.75},{"m":"C","r":"C5","x":2.25,"y":2.73},{"m":"C","r":"C5","x":2.35,"y":2.714},{"m":"C","r":"C5","x":2.5,"y":2.707},{"m":"C","r":"C5","x":5.13,"y":2.707},
{"m":"C","r":"C6","x":0,"y":2.955},{"m":"C","r":"C6","x":1.0,"y":2.95},{"m":"C","r":"C6","x":1.4,"y":2.945},{"m":"C","r":"C6","x":1.85,"y":2.93},{"m":"C","r":"C6","x":1.93,"y":2.9},{"m":"C","r":"C6","x":2.0,"y":2.84},{"m":"C","r":"C6","x":2.07,"y":2.79},{"m":"C","r":"C6","x":2.13,"y":2.76},{"m":"C","r":"C6","x":2.2,"y":2.735},{"m":"C","r":"C6","x":2.3,"y":2.715},{"m":"C","r":"C6","x":5.13,"y":2.707},
{"m":"C","r":"C7","x":0,"y":2.95},{"m":"C","r":"C7","x":0.9,"y":2.945},{"m":"C","r":"C7","x":1.5,"y":2.94},{"m":"C","r":"C7","x":1.93,"y":2.93},{"m":"C","r":"C7","x":2.0,"y":2.86},{"m":"C","r":"C7","x":2.07,"y":2.8},{"m":"C","r":"C7","x":2.14,"y":2.765},{"m":"C","r":"C7","x":2.22,"y":2.74},{"m":"C","r":"C7","x":2.3,"y":2.725},{"m":"C","r":"C7","x":2.65,"y":2.71},{"m":"C","r":"C7","x":5.13,"y":2.707},
{"m":"C","r":"C8","x":0,"y":2.945},{"m":"C","r":"C8","x":1.0,"y":2.94},{"m":"C","r":"C8","x":1.55,"y":2.937},{"m":"C","r":"C8","x":1.9,"y":2.93},{"m":"C","r":"C8","x":1.98,"y":2.88},{"m":"C","r":"C8","x":2.05,"y":2.82},{"m":"C","r":"C8","x":2.1,"y":2.78},{"m":"C","r":"C8","x":2.17,"y":2.75},{"m":"C","r":"C8","x":2.25,"y":2.725},{"m":"C","r":"C8","x":2.35,"y":2.712},{"m":"C","r":"C8","x":5.13,"y":2.707},
{"m":"C","r":"C9","x":0,"y":2.94},{"m":"C","r":"C9","x":1.2,"y":2.937},{"m":"C","r":"C9","x":1.95,"y":2.93},{"m":"C","r":"C9","x":2.02,"y":2.86},{"m":"C","r":"C9","x":2.08,"y":2.8},{"m":"C","r":"C9","x":2.15,"y":2.76},{"m":"C","r":"C9","x":2.22,"y":2.735},{"m":"C","r":"C9","x":2.32,"y":2.715},{"m":"C","r":"C9","x":5.13,"y":2.707},
{"m":"C","r":"C10","x":0,"y":2.935},{"m":"C","r":"C10","x":1.1,"y":2.932},{"m":"C","r":"C10","x":1.8,"y":2.93},{"m":"C","r":"C10","x":1.92,"y":2.9},{"m":"C","r":"C10","x":1.99,"y":2.85},{"m":"C","r":"C10","x":2.06,"y":2.8},{"m":"C","r":"C10","x":2.12,"y":2.77},{"m":"C","r":"C10","x":2.2,"y":2.745},{"m":"C","r":"C10","x":2.28,"y":2.725},{"m":"C","r":"C10","x":2.38,"y":2.712},{"m":"C","r":"C10","x":5.13,"y":2.707},
{"m":"D","r":"D1","x":0,"y":3.034},{"m":"D","r":"D1","x":0.4,"y":3.02},{"m":"D","r":"D1","x":0.55,"y":2.99},{"m":"D","r":"D1","x":0.7,"y":2.95},{"m":"D","r":"D1","x":0.9,"y":2.93},{"m":"D","r":"D1","x":1.1,"y":2.922},{"m":"D","r":"D1","x":1.97,"y":2.905},{"m":"D","r":"D1","x":2.34,"y":2.9},{"m":"D","r":"D1","x":3.15,"y":2.73},{"m":"D","r":"D1","x":5.13,"y":2.728},
{"m":"D","r":"D2","x":0,"y":3.016},{"m":"D","r":"D2","x":0.42,"y":3.0},{"m":"D","r":"D2","x":0.55,"y":2.97},{"m":"D","r":"D2","x":0.7,"y":2.94},{"m":"D","r":"D2","x":0.85,"y":2.92},{"m":"D","r":"D2","x":1.05,"y":2.9},{"m":"D","r":"D2","x":1.25,"y":2.89},{"m":"D","r":"D2","x":1.97,"y":2.875},{"m":"D","r":"D2","x":2.1,"y":2.865},{"m":"D","r":"D2","x":3.58,"y":2.735},{"m":"D","r":"D2","x":5.13,"y":2.73},
{"m":"D","r":"D3","x":0,"y":3.01},{"m":"D","r":"D3","x":0.45,"y":2.995},{"m":"D","r":"D3","x":0.6,"y":2.96},{"m":"D","r":"D3","x":0.75,"y":2.93},{"m":"D","r":"D3","x":0.9,"y":2.91},{"m":"D","r":"D3","x":1.2,"y":2.88},{"m":"D","r":"D3","x":1.5,"y":2.875},{"m":"D","r":"D3","x":1.98,"y":2.87},{"m":"D","r":"D3","x":2.3,"y":2.86},{"m":"D","r":"D3","x":2.55,"y":2.853},{"m":"D","r":"D3","x":3.65,"y":2.73},{"m":"D","r":"D3","x":5.13,"y":2.728},
{"m":"D","r":"D4","x":0,"y":3.005},{"m":"D","r":"D4","x":0.4,"y":2.99},{"m":"D","r":"D4","x":0.55,"y":2.95},{"m":"D","r":"D4","x":0.7,"y":2.9},{"m":"D","r":"D4","x":0.8,"y":2.87},{"m":"D","r":"D4","x":1.0,"y":2.845},{"m":"D","r":"D4","x":1.3,"y":2.827},{"m":"D","r":"D4","x":1.97,"y":2.79},{"m":"D","r":"D4","x":2.1,"y":2.775},{"m":"D","r":"D4","x":2.3,"y":2.76},{"m":"D","r":"D4","x":2.6,"y":2.745},{"m":"D","r":"D4","x":3.0,"y":2.73},{"m":"D","r":"D4","x":3.5,"y":2.715},{"m":"D","r":"D4","x":5.13,"y":2.707},
{"m":"D","r":"D5","x":0,"y":3.0},{"m":"D","r":"D5","x":0.45,"y":2.985},{"m":"D","r":"D5","x":0.6,"y":2.95},{"m":"D","r":"D5","x":0.8,"y":2.91},{"m":"D","r":"D5","x":1.0,"y":2.88},{"m":"D","r":"D5","x":1.2,"y":2.86},{"m":"D","r":"D5","x":1.5,"y":2.83},{"m":"D","r":"D5","x":1.97,"y":2.82},{"m":"D","r":"D5","x":2.05,"y":2.79},{"m":"D","r":"D5","x":2.3,"y":2.77},{"m":"D","r":"D5","x":2.6,"y":2.75},{"m":"D","r":"D5","x":3.0,"y":2.735},{"m":"D","r":"D5","x":3.4,"y":2.72},{"m":"D","r":"D5","x":4.0,"y":2.71},{"m":"D","r":"D5","x":5.13,"y":2.707},
{"m":"D","r":"D6","x":0,"y":2.995},{"m":"D","r":"D6","x":0.45,"y":2.975},{"m":"D","r":"D6","x":0.6,"y":2.95},{"m":"D","r":"D6","x":0.8,"y":2.93},{"m":"D","r":"D6","x":1.05,"y":2.922},{"m":"D","r":"D6","x":1.97,"y":2.8},{"m":"D","r":"D6","x":2.2,"y":2.785},{"m":"D","r":"D6","x":2.5,"y":2.775},{"m":"D","r":"D6","x":2.8,"y":2.76},{"m":"D","r":"D6","x":3.1,"y":2.74},{"m":"D","r":"D6","x":3.4,"y":2.72},{"m":"D","r":"D6","x":4.0,"y":2.71},{"m":"D","r":"D6","x":5.13,"y":2.707},
{"m":"D","r":"D7","x":0,"y":2.99},{"m":"D","r":"D7","x":0.5,"y":2.98},{"m":"D","r":"D7","x":0.7,"y":2.96},{"m":"D","r":"D7","x":0.85,"y":2.93},{"m":"D","r":"D7","x":1.05,"y":2.9},{"m":"D","r":"D7","x":1.3,"y":2.885},{"m":"D","r":"D7","x":1.97,"y":2.86},{"m":"D","r":"D7","x":2.5,"y":2.845},{"m":"D","r":"D7","x":2.9,"y":2.83},{"m":"D","r":"D7","x":3.1,"y":2.82},{"m":"D","r":"D7","x":3.6,"y":2.73},{"m":"D","r":"D7","x":5.13,"y":2.728},
{"m":"D","r":"D8","x":0,"y":2.98},{"m":"D","r":"D8","x":0.5,"y":2.97},{"m":"D","r":"D8","x":0.7,"y":2.94},{"m":"D","r":"D8","x":0.9,"y":2.9},{"m":"D","r":"D8","x":1.15,"y":2.87},{"m":"D","r":"D8","x":1.5,"y":2.84},{"m":"D","r":"D8","x":1.97,"y":2.825},{"m":"D","r":"D8","x":2.05,"y":2.78},{"m":"D","r":"D8","x":2.4,"y":2.77},{"m":"D","r":"D8","x":2.7,"y":2.75},{"m":"D","r":"D8","x":3.1,"y":2.73},{"m":"D","r":"D8","x":3.6,"y":2.715},{"m":"D","r":"D8","x":5.13,"y":2.707},
{"m":"D","r":"D9","x":0,"y":2.964},{"m":"D","r":"D9","x":0.6,"y":2.955},{"m":"D","r":"D9","x":0.8,"y":2.93},{"m":"D","r":"D9","x":1.0,"y":2.92},{"m":"D","r":"D9","x":1.97,"y":2.91},{"m":"D","r":"D9","x":2.15,"y":2.86},{"m":"D","r":"D9","x":2.5,"y":2.85},{"m":"D","r":"D9","x":2.8,"y":2.82},{"m":"D","r":"D9","x":3.0,"y":2.8},{"m":"D","r":"D9","x":3.2,"y":2.78},{"m":"D","r":"D9","x":3.4,"y":2.75},{"m":"D","r":"D9","x":3.7,"y":2.725},{"m":"D","r":"D9","x":5.13,"y":2.708},
{"m":"D","r":"D10","x":0,"y":2.953},{"m":"D","r":"D10","x":0.65,"y":2.945},{"m":"D","r":"D10","x":0.85,"y":2.92},{"m":"D","r":"D10","x":1.1,"y":2.9},{"m":"D","r":"D10","x":1.4,"y":2.885},{"m":"D","r":"D10","x":2.0,"y":2.865},{"m":"D","r":"D10","x":2.3,"y":2.84},{"m":"D","r":"D10","x":2.6,"y":2.825},{"m":"D","r":"D10","x":2.9,"y":2.8},{"m":"D","r":"D10","x":3.3,"y":2.78},{"m":"D","r":"D10","x":3.62,"y":2.732},{"m":"D","r":"D10","x":5.13,"y":2.73},
{"m":"D","r":"D11","x":0,"y":3.025},{"m":"D","r":"D11","x":0.4,"y":3.01},{"m":"D","r":"D11","x":0.5,"y":2.98},{"m":"D","r":"D11","x":0.65,"y":2.95},{"m":"D","r":"D11","x":0.8,"y":2.92},{"m":"D","r":"D11","x":1.0,"y":2.9},{"m":"D","r":"D11","x":1.3,"y":2.87},{"m":"D","r":"D11","x":1.97,"y":2.84},{"m":"D","r":"D11","x":2.05,"y":2.77},{"m":"D","r":"D11","x":2.3,"y":2.76},{"m":"D","r":"D11","x":2.7,"y":2.74},{"m":"D","r":"D11","x":3.2,"y":2.725},{"m":"D","r":"D11","x":3.8,"y":2.712},{"m":"D","r":"D11","x":5.13,"y":2.707},
{"m":"M","r":"M1","x":0,"y":3.019},{"m":"M","r":"M1","x":0.5,"y":3.015},{"m":"M","r":"M1","x":1.0,"y":3.01},{"m":"M","r":"M1","x":1.4,"y":3.005},{"m":"M","r":"M1","x":1.65,"y":3.0},{"m":"M","r":"M1","x":1.9,"y":2.99},{"m":"M","r":"M1","x":2.05,"y":2.98},{"m":"M","r":"M1","x":2.2,"y":2.965},{"m":"M","r":"M1","x":2.35,"y":2.95},{"m":"M","r":"M1","x":2.5,"y":2.93},{"m":"M","r":"M1","x":2.6,"y":2.91},{"m":"M","r":"M1","x":2.7,"y":2.885},{"m":"M","r":"M1","x":2.8,"y":2.86},{"m":"M","r":"M1","x":2.9,"y":2.83},{"m":"M","r":"M1","x":3.0,"y":2.8},{"m":"M","r":"M1","x":3.1,"y":2.78},{"m":"M","r":"M1","x":3.2,"y":2.765},{"m":"M","r":"M1","x":3.35,"y":2.75},{"m":"M","r":"M1","x":3.6,"y":2.735},{"m":"M","r":"M1","x":4.0,"y":2.725},{"m":"M","r":"M1","x":4.5,"y":2.715},{"m":"M","r":"M1","x":5.13,"y":2.711},
{"m":"M","r":"M2","x":0,"y":3.007},{"m":"M","r":"M2","x":1.0,"y":3.006},{"m":"M","r":"M2","x":1.5,"y":3.0},{"m":"M","r":"M2","x":1.8,"y":2.995},{"m":"M","r":"M2","x":2.0,"y":2.985},{"m":"M","r":"M2","x":2.15,"y":2.97},{"m":"M","r":"M2","x":2.3,"y":2.95},{"m":"M","r":"M2","x":2.45,"y":2.93},{"m":"M","r":"M2","x":2.55,"y":2.91},{"m":"M","r":"M2","x":2.65,"y":2.89},{"m":"M","r":"M2","x":2.75,"y":2.865},{"m":"M","r":"M2","x":2.85,"y":2.84},{"m":"M","r":"M2","x":2.95,"y":2.815},{"m":"M","r":"M2","x":3.05,"y":2.79},{"m":"M","r":"M2","x":3.15,"y":2.77},{"m":"M","r":"M2","x":3.3,"y":2.755},{"m":"M","r":"M2","x":3.5,"y":2.74},{"m":"M","r":"M2","x":3.9,"y":2.728},{"m":"M","r":"M2","x":4.5,"y":2.72},{"m":"M","r":"M2","x":5.13,"y":2.711},
{"m":"M","r":"M3","x":0,"y":3.005},{"m":"M","r":"M3","x":0.8,"y":3.0},{"m":"M","r":"M3","x":1.3,"y":2.99},{"m":"M","r":"M3","x":1.7,"y":2.975},{"m":"M","r":"M3","x":2.0,"y":2.96},{"m":"M","r":"M3","x":2.2,"y":2.94},{"m":"M","r":"M3","x":2.4,"y":2.92},{"m":"M","r":"M3","x":2.55,"y":2.9},{"m":"M","r":"M3","x":2.7,"y":2.875},{"m":"M","r":"M3","x":2.8,"y":2.85},{"m":"M","r":"M3","x":2.9,"y":2.82},{"m":"M","r":"M3","x":3.0,"y":2.795},{"m":"M","r":"M3","x":3.1,"y":2.775},{"m":"M","r":"M3","x":3.25,"y":2.76},{"m":"M","r":"M3","x":3.45,"y":2.745},{"m":"M","r":"M3","x":3.8,"y":2.735},{"m":"M","r":"M3","x":4.5,"y":2.73},{"m":"M","r":"M3","x":5.13,"y":2.73},
{"m":"M","r":"M4","x":0,"y":2.986},{"m":"M","r":"M4","x":0.6,"y":2.984},{"m":"M","r":"M4","x":1.2,"y":2.975},{"m":"M","r":"M4","x":1.6,"y":2.96},{"m":"M","r":"M4","x":1.95,"y":2.945},{"m":"M","r":"M4","x":2.2,"y":2.925},{"m":"M","r":"M4","x":2.4,"y":2.905},{"m":"M","r":"M4","x":2.6,"y":2.885},{"m":"M","r":"M4","x":2.75,"y":2.86},{"m":"M","r":"M4","x":2.85,"y":2.83},{"m":"M","r":"M4","x":2.95,"y":2.8},{"m":"M","r":"M4","x":3.05,"y":2.78},{"m":"M","r":"M4","x":3.2,"y":2.765},{"m":"M","r":"M4","x":3.4,"y":2.75},{"m":"M","r":"M4","x":3.7,"y":2.738},{"m":"M","r":"M4","x":4.2,"y":2.728},{"m":"M","r":"M4","x":5.13,"y":2.726},
{"m":"M","r":"M5","x":0,"y":2.961},{"m":"M","r":"M5","x":0.7,"y":2.958},{"m":"M","r":"M5","x":1.0,"y":2.945},{"m":"M","r":"M5","x":1.3,"y":2.935},{"m":"M","r":"M5","x":1.7,"y":2.93},{"m":"M","r":"M5","x":2.0,"y":2.925},{"m":"M","r":"M5","x":2.3,"y":2.91},{"m":"M","r":"M5","x":2.5,"y":2.89},{"m":"M","r":"M5","x":2.65,"y":2.87},{"m":"M","r":"M5","x":2.8,"y":2.84},{"m":"M","r":"M5","x":2.9,"y":2.81},{"m":"M","r":"M5","x":3.0,"y":2.785},{"m":"M","r":"M5","x":3.1,"y":2.765},{"m":"M","r":"M5","x":3.3,"y":2.75},{"m":"M","r":"M5","x":3.6,"y":2.735},{"m":"M","r":"M5","x":4.1,"y":2.72},{"m":"M","r":"M5","x":4.7,"y":2.713},{"m":"M","r":"M5","x":5.13,"y":2.711},
{"m":"M","r":"M6","x":0,"y":2.94},{"m":"M","r":"M6","x":0.9,"y":2.938},{"m":"M","r":"M6","x":1.3,"y":2.935},{"m":"M","r":"M6","x":1.8,"y":2.93},{"m":"M","r":"M6","x":2.2,"y":2.92},{"m":"M","r":"M6","x":2.45,"y":2.9},{"m":"M","r":"M6","x":2.6,"y":2.88},{"m":"M","r":"M6","x":2.75,"y":2.855},{"m":"M","r":"M6","x":2.85,"y":2.83},{"m":"M","r":"M6","x":2.95,"y":2.8},{"m":"M","r":"M6","x":3.05,"y":2.775},{"m":"M","r":"M6","x":3.15,"y":2.76},{"m":"M","r":"M6","x":3.35,"y":2.745},{"m":"M","r":"M6","x":3.7,"y":2.73},{"m":"M","r":"M6","x":4.2,"y":2.718},{"m":"M","r":"M6","x":5.13,"y":2.711}
]
},
"vconcat": [
{
  "width": 322, "height": 254,
  "resolve": {"axis": {"y": "independent"}},
  "layer": [
    {
      "data": {"name": "a"},
      "mark": {"type": "line", "interpolate": "step-after", "strokeWidth": 2},
      "encoding": {
        "x": {"field": "x", "type": "quantitative", "scale": {"domain": [0, 6], "nice": false}, "axis": {"values": [0, 2, 4, 6], "format": "~g", "title": "log(t/τGen)", "titleAngle": 0, "titleAlign": "left", "titleBaseline": "alphabetic", "titleX": 264, "titleY": 35, "labelPadding": 15}},
        "y": {"field": "y", "type": "quantitative", "scale": {"domain": [2.5, 4.5], "nice": false, "zero": false}, "axis": {"orient": "left", "values": [2.5, 3, 3.5, 4, 4.5], "format": "~g", "title": "log(χ²)", "titleAngle": 0, "titleAlign": "left", "titleBaseline": "alphabetic", "titleX": -49, "titleY": -16, "labelPadding": 8}},
        "color": {"field": "m", "type": "nominal", "scale": {"domain": ["C", "D", "M"], "range": ["#00ff00", "#0000ff", "#ff0000"]},
          "legend": {"orient": "none", "legendX": 237, "legendY": -26, "title": null, "padding": 0, "symbolType": "circle", "symbolSize": 10, "symbolOpacity": 0, "symbolStrokeWidth": 0, "labelOffset": 0, "labelAlign": "center", "labelFont": "Open Sans", "labelFontSize": 19, "rowPadding": 8,
            "labelExpr": "datum.label == 'C' ? 'CMAES' : datum.label == 'D' ? 'DE' : 'MCMC'",
            "encode": {"labels": {"update": {"fill": {"signal": "datum.value == 'C' ? '#00ff00' : datum.value == 'D' ? '#0000ff' : '#ff0000'"}}}}}},
        "detail": {"field": "r", "type": "nominal"}
      }
    },
    {
      "data": {"values": [{"t": "ΩTar", "x": 0, "x2": 5.13, "y": 2.7}]},
      "mark": {"type": "rule", "strokeWidth": 2, "color": "#000000"},
      "encoding": {
        "x": {"field": "x", "type": "quantitative"},
        "x2": {"field": "x2"},
        "y": {"field": "y", "type": "quantitative", "axis": {"orient": "right", "domain": false, "ticks": false, "labels": false, "title": "(a)", "titleAngle": 0, "titleAlign": "right", "titleBaseline": "alphabetic", "titleX": 33, "titleY": -2}},
        "strokeDash": {"field": "t", "type": "nominal", "scale": {"range": [[8, 6]]},
          "legend": {"orient": "none", "legendX": 234, "legendY": 57, "title": "ΩTar", "titleFont": "Liberation Serif", "titleFontSize": 19, "titleFontWeight": "normal", "titleColor": "#000000", "titleAnchor": "start", "titlePadding": 7, "padding": 0, "symbolType": "M-18,0H94", "symbolSize": 1, "symbolStrokeWidth": 2, "symbolStrokeColor": "#000000", "labelExpr": "''", "labelFontSize": 1, "labelOffset": 0}}
      }
    }
  ]
},
{
  "width": 322, "height": 254,
  "resolve": {"axis": {"y": "independent"}},
  "layer": [
    {
      "data": {"name": "b"},
      "mark": {"type": "line", "interpolate": "step-after", "strokeWidth": 2},
      "encoding": {
        "x": {"field": "x", "type": "quantitative", "scale": {"domain": [0, 6], "nice": false}, "axis": {"values": [0, 2, 4, 6], "format": "~g", "title": "log(t/τGen)", "titleAngle": 0, "titleAlign": "left", "titleBaseline": "alphabetic", "titleX": 264, "titleY": 35, "labelPadding": 15}},
        "y": {"field": "y", "type": "quantitative", "scale": {"domain": [3.4, 4.4], "nice": false, "zero": false}, "axis": {"orient": "left", "values": [3.4, 3.6, 3.8, 4, 4.2, 4.4], "format": "~g", "title": "log(ψ)", "titleAngle": 0, "titleAlign": "left", "titleBaseline": "alphabetic", "titleX": -49, "titleY": -17, "labelPadding": 8}},
        "color": {"field": "m", "type": "nominal", "scale": {"domain": ["C", "D", "M"], "range": ["#00ff00", "#0000ff", "#ff0000"]}, "legend": null},
        "detail": {"field": "r", "type": "nominal"}
      }
    },
    {
      "data": {"values": [{"x": 0, "x2": 5.13, "y": 3.452}]},
      "mark": {"type": "rule", "strokeWidth": 2, "color": "#000000", "strokeDash": [8, 6]},
      "encoding": {
        "x": {"field": "x", "type": "quantitative"},
        "x2": {"field": "x2"},
        "y": {"field": "y", "type": "quantitative", "axis": {"orient": "right", "domain": false, "ticks": false, "labels": false, "title": "(b)", "titleAngle": 0, "titleAlign": "right", "titleBaseline": "alphabetic", "titleX": 33, "titleY": -3}}
      }
    }
  ]
},
{
  "width": 322, "height": 254,
  "resolve": {"axis": {"y": "independent"}},
  "layer": [
    {
      "data": {"name": "c"},
      "mark": {"type": "line", "interpolate": "step-after", "strokeWidth": 2},
      "encoding": {
        "x": {"field": "x", "type": "quantitative", "scale": {"domain": [0, 6], "nice": false}, "axis": {"values": [0, 2, 4, 6], "format": "~g", "title": "log(t/τGen)", "titleAngle": 0, "titleAlign": "left", "titleBaseline": "alphabetic", "titleX": 264, "titleY": 35, "labelPadding": 15}},
        "y": {"field": "y", "type": "quantitative", "scale": {"domain": [2.7, 3.1], "nice": false, "zero": false}, "axis": {"orient": "left", "values": [2.7, 2.8, 2.9, 3, 3.1], "format": "~g", "title": "log(Ξ)", "titleAngle": 0, "titleAlign": "left", "titleBaseline": "alphabetic", "titleX": -49, "titleY": -17, "labelPadding": 8}},
        "color": {"field": "m", "type": "nominal", "scale": {"domain": ["C", "D", "M"], "range": ["#00ff00", "#0000ff", "#ff0000"]}, "legend": null},
        "detail": {"field": "r", "type": "nominal"}
      }
    },
    {
      "data": {"values": [{"x": 0, "x2": 5.13, "y": 2.748}]},
      "mark": {"type": "rule", "strokeWidth": 2, "color": "#000000", "strokeDash": [8, 6]},
      "encoding": {
        "x": {"field": "x", "type": "quantitative"},
        "x2": {"field": "x2"},
        "y": {"field": "y", "type": "quantitative", "axis": {"orient": "right", "domain": false, "ticks": false, "labels": false, "title": "(c)", "titleAngle": 0, "titleAlign": "right", "titleBaseline": "alphabetic", "titleX": 33, "titleY": -3}}
      }
    }
  ]
}
]
}
